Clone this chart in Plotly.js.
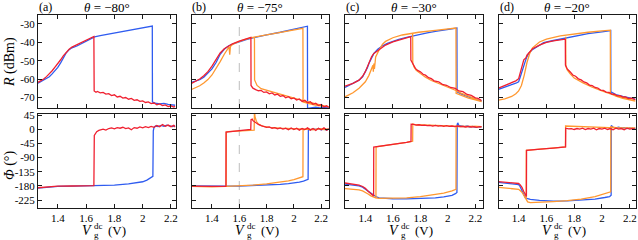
<!DOCTYPE html>
<html><head><meta charset="utf-8">
<script src="https://cdn.plot.ly/plotly-3.0.1.min.js"></script>
<style>html,body{margin:0;padding:0;background:#fff}#plot{width:638px;height:240px}</style>
</head><body><div id="plot"></div>
<script>
// ---------- Data ----------
const panelLetters = ['(a)','(b)','(c)','(d)'];
const panelThetas = ['−80°','−75°','−30°','−20°'];
const xTickVals = [1.4,1.6,1.8,2,2.2];
const xTickText = ['1.4','1.6','1.8','2','2.2'];
const rTickVals = [-70,-60,-50,-40,-30];
const rTickText = ['-70','-60','-50','-40','-30'];
const phiTickVals = [-225,-180,-135,-90,-45,0,45];
const phiTickText = ['-225','-180','-135','-90','-45','0','45'];

// Panel (a) R
const aRBlueV = [1.26,1.28,1.30,1.32,1.34,1.36,1.38,1.40,1.42,1.44,1.46,1.48,1.50,1.535,1.58,1.62,1.66,1.70,1.80,1.90,2.00,2.068,2.069,2.09,2.12,2.15,2.18,2.21,2.23];
const aRBlue  = [-62.3,-61.5,-60.8,-60,-58.8,-57.2,-55.5,-53.7,-51.2,-48.5,-45.7,-44,-43,-42,-40.3,-38.6,-37,-36.4,-35,-33.6,-32.2,-31.1,-72.6,-73.2,-73.5,-73.3,-73.8,-74,-74.3];
const aRRedV = [1.26,1.28,1.30,1.32,1.34,1.36,1.38,1.40,1.42,1.44,1.46,1.48,1.50,1.535,1.58,1.62,1.655,1.657,1.67,1.68,1.70,1.72,1.74,1.76,1.78,1.80,1.82,1.84,1.86,1.88,1.90,1.92,1.94,1.96,1.98,2.00,2.02,2.04,2.06,2.08,2.10,2.12,2.14,2.16,2.18,2.20,2.22,2.23];
const aRRed  = [-61.8,-61,-60,-58.7,-57.2,-55.5,-53.5,-51.8,-49.5,-47.2,-45.3,-43.8,-42.6,-41.2,-39.7,-38.2,-36.8,-66.5,-67.2,-66.8,-67.5,-67.3,-68.2,-68,-69,-68.6,-69.8,-69.4,-70.4,-70.1,-71,-70.6,-71.6,-71.3,-72.2,-71.9,-72.8,-72.5,-73.4,-73.1,-74,-73.6,-74.5,-74.1,-75,-74.6,-75.3,-74.9];
// Panel (a) Phi
const aPBlueV = [1.26,1.30,1.35,1.40,1.50,1.60,1.70,1.80,1.90,1.95,2.00,2.03,2.06,2.072,2.075,2.08,2.09,2.11,2.13,2.15,2.17,2.19,2.21,2.23];
const aPBlue  = [-187,-185,-183,-181.5,-181,-180.5,-179.5,-177.5,-174,-171,-167,-162,-155,-150,-5,5,10,8,12,9,13,10,8,11];
const aPRedV = [1.26,1.30,1.35,1.40,1.50,1.60,1.655,1.658,1.665,1.675,1.69,1.70,1.72,1.74,1.76,1.78,1.80,1.82,1.84,1.86,1.88,1.90,1.92,1.94,1.96,1.98,2.00,2.02,2.04,2.06,2.08,2.10,2.12,2.14,2.16,2.18,2.20,2.22,2.23];
const aPRed  = [-186,-184,-182,-181,-180.5,-180,-179.5,-20,-14,-8,-4,-2,0,-3,2,4,1,5,3,6,2,4,-2,5,3,7,4,8,5,9,6,12,8,15,9,13,8,12,7];

// Panel (b) R
const bRBlueV = [1.25,1.28,1.31,1.34,1.37,1.40,1.43,1.46,1.49,1.52,1.55,1.60,1.65,1.70,1.75,1.80,1.90,2.00,2.06,2.099,2.100,2.13,2.16,2.19,2.22,2.255];
const bRBlue  = [-61.8,-61,-60.4,-59,-57,-54.5,-51,-46.5,-43.8,-42,-41,-39.7,-38.5,-37.6,-36.6,-35.9,-34.5,-33,-32,-31.2,-76,-75.7,-75.3,-75.8,-75.5,-75.8];
const bROrangeV = [1.25,1.28,1.31,1.34,1.37,1.40,1.43,1.46,1.49,1.51,1.525,1.53,1.535,1.55,1.60,1.65,1.70,1.80,1.90,2.00,2.066,2.067,2.10,2.14,2.18,2.22,2.255,2.20,2.14,2.08,2.02,1.95,1.87,1.80,1.76,1.73,1.72,1.712,1.711];
const bROrange  = [-65.7,-64.8,-63.7,-62.2,-60.3,-57.8,-54.5,-50.5,-46.5,-43.8,-42.5,-46.8,-42.3,-41.2,-39.5,-38.3,-37.3,-35.9,-34.6,-33.3,-32.4,-72.5,-73.3,-74,-74.5,-74.8,-75.2,-74.3,-73.3,-72,-70.8,-69.3,-67.7,-66.5,-65.3,-63.5,-62,-60.5,-37.1];
const bRRedV = [1.25,1.28,1.31,1.34,1.37,1.40,1.43,1.46,1.49,1.52,1.55,1.60,1.65,1.685,1.686,1.70,1.72,1.74,1.76,1.78,1.80,1.82,1.84,1.86,1.88,1.90,1.92,1.94,1.96,1.98,2.00,2.02,2.04,2.06,2.08,2.10,2.12,2.14,2.16,2.18,2.20,2.22,2.24,2.255];
const bRRed  = [-62.4,-61.2,-60,-58.2,-56,-53,-49.5,-45.8,-43.5,-42,-40.8,-39.3,-38,-37.3,-63.5,-65,-65.8,-66.4,-66.2,-67.3,-67,-68.1,-67.6,-68.7,-68.3,-69.4,-69,-70.2,-69.6,-70.8,-70.3,-71.5,-70.9,-72.2,-71.6,-73,-72.4,-73.8,-73.2,-74.5,-73.9,-75.2,-74.6,-75.5];
// Panel (b) Phi
const bPBlueV = [1.25,1.30,1.40,1.50,1.60,1.70,1.80,1.90,1.96,2.00,2.04,2.07,2.09,2.104,2.106,2.12,2.14,2.16,2.18,2.20,2.22,2.24,2.255];
const bPBlue  = [-180,-180.5,-181,-181,-180.5,-179.5,-178,-175.5,-173,-171,-168,-165,-162,-159,0,-2,1,-1,2,-2,0,-3,1];
const bPOrangeV = [1.25,1.30,1.40,1.50,1.60,1.70,1.80,1.90,1.96,2.00,2.04,2.066,2.067,2.10,2.14,2.18,2.22,2.255,2.20,2.14,2.08,2.00,1.90,1.82,1.77,1.74,1.725,1.715,1.711,1.709,1.65,1.58,1.52,1.505,1.504];
const bPOrange  = [-182,-183,-183,-182,-180.5,-178,-174,-168.5,-164,-160,-155,-151,-2,1,-2,2,-1,0,1,-1,0,1,3,6,10,16,25,40,62,-3,-4,-6,-8,-9,-182];
const bPRedV = [1.25,1.30,1.40,1.45,1.502,1.503,1.55,1.60,1.65,1.684,1.686,1.695,1.70,1.72,1.74,1.76,1.78,1.80,1.82,1.84,1.86,1.88,1.90,1.92,1.94,1.96,1.98,2.00,2.02,2.04,2.06,2.08,2.10,2.12,2.14,2.16,2.18,2.20,2.22,2.24,2.255];
const bPRed  = [-181,-182,-182,-182,-181.5,-9,-7,-5,-3,-1,30,32,27,20,15,11,9,6,7,3,5,1,4,0,3,-2,4,-1,3,-3,2,-1,4,-3,2,-4,3,-2,4,-3,1];

// Panel (c) R
const cRBlueV = [1.252,1.28,1.31,1.354,1.38,1.402,1.415,1.426,1.44,1.462,1.49,1.522,1.56,1.60,1.643,1.70,1.788,1.85,1.909,1.97,2.03,2.066,2.067,2.10,2.15,2.20,2.245];
const cRBlue  = [-64.6,-63.5,-62.3,-60.6,-58.8,-56,-53.8,-51.5,-49,-46,-43.8,-42,-40.6,-39.5,-38.4,-37.3,-35.6,-34.8,-34,-33.3,-32.6,-32.2,-67,-68.3,-69.8,-71,-72];
const cROrangeV = [1.252,1.28,1.31,1.354,1.38,1.40,1.426,1.445,1.455,1.458,1.462,1.466,1.47,1.475,1.50,1.525,1.547,1.60,1.668,1.72,1.788,1.909,2.03,2.059,2.06,2.10,2.15,2.20,2.245,2.20,2.15,2.10,2.05,2.00,1.933,1.88,1.837,1.80,1.77,1.755,1.745,1.744];
const cROrange  = [-69.7,-68.7,-67.5,-65,-63.2,-61.5,-58,-55,-52.5,-56,-51.5,-54.5,-49.5,-48,-44.2,-41,-39.5,-37.5,-36,-35.3,-34.5,-33.5,-32.6,-32.2,-67.8,-69,-70.4,-71.4,-72.3,-70.8,-69.5,-67.8,-66,-64.5,-62.5,-60.8,-59,-57.2,-55.3,-53.5,-51.5,-35];
const cRRedV = [1.252,1.28,1.31,1.354,1.38,1.40,1.415,1.43,1.445,1.46,1.48,1.50,1.522,1.547,1.60,1.668,1.70,1.73,1.731,1.745,1.764,1.78,1.80,1.82,1.837,1.86,1.88,1.90,1.933,1.96,1.99,2.02,2.054,2.08,2.11,2.14,2.17,2.20,2.22,2.245];
const cRRed  = [-63.9,-63.2,-62.4,-60.6,-58.5,-56,-53.3,-50,-47.9,-46.2,-45,-44,-42.8,-41.5,-39.8,-38.4,-37.7,-36.9,-49.7,-52,-54.2,-55.3,-56.1,-57.4,-57.9,-59.3,-59.8,-61,-61.5,-62.9,-63.4,-64.6,-65.1,-66.5,-66.9,-68.4,-68.9,-70.3,-70.6,-71.7];
// Panel (c) Phi
const cPBlueV = [1.252,1.30,1.354,1.38,1.402,1.42,1.44,1.46,1.475,1.50,1.55,1.60,1.70,1.80,1.909,1.97,2.03,2.055,2.066,2.068,2.072,2.08,2.10,2.12,2.14,2.16,2.18,2.20,2.22,2.245];
const cPBlue  = [-174.5,-177,-180,-184,-191,-198,-205,-211,-214,-218,-220,-221,-221.5,-221,-218.5,-215,-210,-205,-201,15,20,12,10,8,10,7,9,6,8,7];
const cPOrangeV = [1.252,1.30,1.354,1.38,1.40,1.42,1.44,1.46,1.475,1.50,1.60,1.70,1.80,1.90,1.97,2.03,2.059,2.06,2.10,2.15,2.20,2.245,2.15,2.05,1.95,1.85,1.77,1.745,1.744,1.70,1.65,1.60,1.55,1.50,1.478,1.477];
const cPOrange  = [-188.6,-190,-193,-196,-200,-206,-212,-216,-218,-220,-220,-218,-214,-208,-203,-196,-191,8,9,8,9,8,9,10,11,12,14,16,-38.6,-42,-45,-48,-51,-54,-56,-218];
const cPRedV = [1.252,1.30,1.354,1.38,1.40,1.42,1.44,1.46,1.461,1.50,1.55,1.60,1.65,1.70,1.732,1.733,1.75,1.77,1.79,1.81,1.83,1.85,1.87,1.89,1.91,1.93,1.95,1.97,1.99,2.01,2.03,2.05,2.07,2.09,2.11,2.13,2.15,2.17,2.19,2.21,2.23,2.245];
const cPRed  = [-171,-174,-177.7,-182,-188,-197,-205,-212,-56.6,-54.5,-52,-49,-46,-42,-39,16,15,13,14,12,13,11,12,10,12,10,11,9,11,9,10,8,10,8,9,7,9,7,8,6,8,7];

// Panel (d) R
const dRBlueV = [1.255,1.30,1.35,1.38,1.40,1.411,1.42,1.435,1.447,1.459,1.475,1.496,1.53,1.58,1.65,1.736,1.80,1.90,2.00,2.063,2.064,2.10,2.15,2.20,2.24];
const dRBlue  = [-65.7,-64.3,-63,-62.3,-61.5,-59,-56.5,-53.3,-50.5,-47.9,-45.8,-44.2,-42.5,-40.2,-39,-37.8,-36.6,-35.3,-34.3,-33.6,-67,-68.5,-69.5,-70.3,-71];
const dROrangeV = [1.255,1.30,1.35,1.38,1.40,1.42,1.44,1.46,1.48,1.50,1.55,1.60,1.70,1.80,1.90,2.00,2.06,2.061,2.10,2.15,2.20,2.24,2.18,2.12,2.05,2.00,1.93,1.86,1.80,1.77,1.75,1.74,1.739];
const dROrange  = [-71.5,-70.8,-69.5,-68,-66.5,-63.5,-58,-51,-46,-43,-39.8,-38.3,-36.5,-35.3,-34.5,-33.8,-33.4,-68,-69.3,-70.5,-71.3,-72,-70.6,-69.4,-67.8,-66.5,-64.5,-62,-59.5,-57,-55,-53,-37];
const dRRedV = [1.255,1.30,1.35,1.38,1.40,1.41,1.42,1.43,1.437,1.445,1.452,1.46,1.48,1.50,1.55,1.60,1.65,1.70,1.736,1.737,1.75,1.77,1.79,1.81,1.83,1.85,1.87,1.89,1.91,1.93,1.95,1.97,1.99,2.01,2.03,2.05,2.07,2.09,2.11,2.13,2.15,2.17,2.19,2.21,2.24];
const dRRed  = [-65,-63.6,-62,-61,-59.8,-57,-54,-51,-49.5,-49,-48.5,-47,-45,-43.5,-41.5,-40,-39.2,-38.6,-38.3,-52.4,-54.5,-56,-57.8,-58.5,-59.9,-60.5,-61.6,-62.1,-63.3,-63.6,-64.6,-64.9,-66,-66.2,-67.1,-67.3,-68.2,-68.3,-69.2,-69.1,-69.9,-69.8,-70.6,-70.4,-71.2];
// Panel (d) Phi
const dPBlueV = [1.255,1.30,1.35,1.40,1.41,1.424,1.436,1.448,1.465,1.484,1.55,1.65,1.75,1.85,1.95,2.02,2.055,2.066,2.067,2.08,2.10,2.12,2.14,2.16,2.18,2.20,2.22,2.24];
const dPBlue  = [-169,-171,-173,-176,-182,-196,-208,-217.5,-221,-223,-226,-228.5,-228,-226,-222,-217,-214,-210,12,6,4,6,3,5,2,4,2,3];
const dPOrangeV = [1.255,1.30,1.35,1.40,1.424,1.44,1.452,1.465,1.484,1.55,1.65,1.75,1.85,1.95,2.02,2.06,2.063,2.064,2.10,2.15,2.20,2.24,2.15,2.05,1.95,1.85,1.77,1.738,1.737,1.70,1.65,1.60,1.55,1.50,1.455,1.454];
const dPOrange  = [-185,-187,-189,-191,-200,-212,-223,-231,-233.5,-233,-230,-227,-222,-214,-206,-200,-199,8,5,4,5,4,4,5,6,7,8,10,-56.6,-58.5,-60.5,-62,-63.5,-65,-67,-223];
const dPRedV = [1.255,1.30,1.35,1.40,1.41,1.424,1.436,1.447,1.456,1.457,1.50,1.55,1.60,1.65,1.70,1.738,1.739,1.76,1.78,1.80,1.82,1.84,1.86,1.88,1.90,1.92,1.94,1.96,1.98,2.00,2.02,2.04,2.06,2.08,2.10,2.12,2.14,2.16,2.18,2.20,2.22,2.24];
const dPRed  = [-166.7,-168,-170,-172.5,-176,-185,-197,-209,-214,-67.3,-65,-63,-61.5,-60,-58,-56.6,3,1,2,-1,2,0,3,-1,2,0,3,-2,2,0,3,-1,2,-2,3,0,2,-2,3,0,2,-1];

const markerV = 1.6; // dashed guide in panel (b)

// ---------- Styling ----------
const BLUE = '#2f5cf0', ORANGE = '#ff9830', RED = '#f02030';
const FONT = '"Liberation Serif", "DejaVu Serif", serif';
const W = 638, H = 240;
const colPx = [[38,175.5],[191.5,329],[345,482.5],[498.5,636]];
const rowPx = [[15,108],[114,208]];
const xRanges = [[1.26,2.232],[1.25,2.257],[1.252,2.252],[1.255,2.245]];
const rRange = [-75.8,-25.1];
const pRange = [-250.4,48.2];

function tr(x, y, color, n) {
  return {x: x, y: y, type: 'scatter', mode: 'lines', xaxis: 'x' + (n === 1 ? '' : n), yaxis: 'y' + (n === 1 ? '' : n),
    line: {color: color, width: 1.3}, hoverinfo: 'skip', showlegend: false};
}

const data = [
  tr(aRBlueV, aRBlue, BLUE, 1), tr(aRRedV, aRRed, RED, 1),
  tr(bRBlueV, bRBlue, BLUE, 2), tr(bROrangeV, bROrange, ORANGE, 2), tr(bRRedV, bRRed, RED, 2),
  tr(cRBlueV, cRBlue, BLUE, 3), tr(cROrangeV, cROrange, ORANGE, 3), tr(cRRedV, cRRed, RED, 3),
  tr(dRBlueV, dRBlue, BLUE, 4), tr(dROrangeV, dROrange, ORANGE, 4), tr(dRRedV, dRRed, RED, 4),
  tr(aPBlueV, aPBlue, BLUE, 5), tr(aPRedV, aPRed, RED, 5),
  tr(bPBlueV, bPBlue, BLUE, 6), tr(bPOrangeV, bPOrange, ORANGE, 6), tr(bPRedV, bPRed, RED, 6),
  tr(cPBlueV, cPBlue, BLUE, 7), tr(cPOrangeV, cPOrange, ORANGE, 7), tr(cPRedV, cPRed, RED, 7),
  tr(dPBlueV, dPBlue, BLUE, 8), tr(dPOrangeV, dPOrange, ORANGE, 8), tr(dPRedV, dPRed, RED, 8)
];

const layout = {
  width: W, height: H, margin: {l: 0, r: 0, t: 0, b: 0},
  paper_bgcolor: '#fff', plot_bgcolor: '#fff', showlegend: false,
  font: {family: FONT, size: 11, color: '#000'},
  annotations: [], shapes: []
};

const axBase = {showline: true, linecolor: '#1a1a1a', linewidth: 1, mirror: 'allticks', ticks: 'inside',
  ticklen: 4, tickwidth: 1, tickcolor: '#1a1a1a', showgrid: false, zeroline: false, fixedrange: true,
  tickfont: {family: FONT, size: 11, color: '#000'}};

for (let n = 1; n <= 8; n++) {
  const col = (n - 1) % 4, row = n <= 4 ? 0 : 1;
  const sfx = n === 1 ? '' : String(n);
  layout['xaxis' + sfx] = Object.assign({}, axBase, {
    domain: [colPx[col][0] / W, colPx[col][1] / W], range: xRanges[col], anchor: 'y' + sfx,
    tickmode: 'array', tickvals: xTickVals, ticktext: xTickText, showticklabels: row === 1
  });
  layout['yaxis' + sfx] = Object.assign({}, axBase, {
    domain: [1 - rowPx[row][1] / H, 1 - rowPx[row][0] / H], anchor: 'x' + sfx,
    range: row === 0 ? rRange : pRange, tickmode: 'array',
    tickvals: row === 0 ? rTickVals : phiTickVals, ticktext: row === 0 ? rTickText : phiTickText,
    showticklabels: col === 0
  });
}

// dashed guide line in (b)
['2', '6'].forEach(s => layout.shapes.push({type: 'line', xref: 'x' + s, yref: 'y' + s + ' domain',
  x0: markerV, x1: markerV, y0: 0, y1: 1, line: {color: '#bdbdbd', width: 1, dash: 'dash'}, layer: 'below'}));

function ann(text, xpx, ypx, size, xanchor, extra) {
  layout.annotations.push(Object.assign({text: text, xref: 'paper', yref: 'paper', x: xpx / W, y: 1 - ypx / H,
    showarrow: false, xanchor: xanchor || 'center', yanchor: 'middle', font: {family: FONT, size: size, color: '#000'}}, extra || {}));
}

for (let c = 0; c < 4; c++) {
  const cx = (colPx[c][0] + colPx[c][1]) / 2;
  ann(panelLetters[c], colPx[c][0] - 1, 7, 12, 'left');
  ann('<i>θ</i> = ' + panelThetas[c], cx, 7, 13, 'center');
  // x axis title: V_g^dc (V)
  ann('<i>V</i>', cx - 20, 230.5, 14, 'center');
  ann('dc', cx - 15, 225.5, 9, 'left');
  ann('g', cx - 15, 235, 9, 'left');
  ann('(V)', cx + 10, 230.5, 13, 'center');
}
ann('<i>R</i> (dBm)', 10, 62, 14, 'center', {textangle: -90});
ann('<i>Φ</i> (°)', 10, 165, 14, 'center', {textangle: -90});

Plotly.newPlot('plot', data, layout, {staticPlot: true, displayModeBar: false});
</script>
</body></html>
